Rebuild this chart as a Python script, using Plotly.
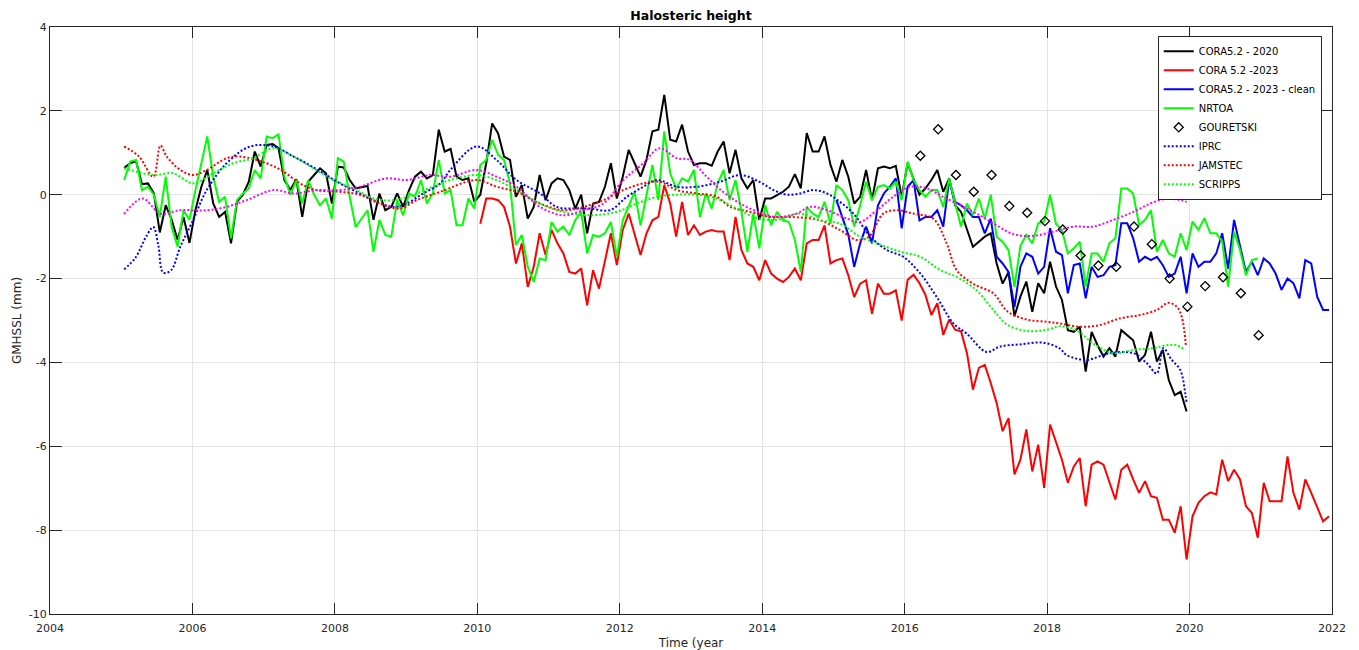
import plotly.graph_objects as go

# ---------------- data ----------------
start_cora2020 = 2005.0417
cora2020 = [
    0.64, 0.75, 0.80, 0.25, 0.27, 0.03, -0.90, -0.25, -0.60, -1.08,
    -0.53, -1.15, -0.37, 0.19, 0.59, -0.21, -0.53, -0.41, -1.16, -0.17,
    0.00, 0.31, 1.03, 0.67, 1.19, 1.21, 1.11, 0.35, 0.11, 0.37,
    -0.53, 0.31, 0.47, 0.63, 0.51, -0.21, 0.67, 0.65, 0.35, 0.15,
    0.18, 0.21, -0.60, 0.03, -0.37, -0.29, 0.03, -0.29, 0.11, 0.43,
    0.55, 0.39, 0.47, 1.55,
    1.03, 1.09, 0.43, 0.35, 0.39, -0.17, 0.00, 0.75, 1.70, 1.46,
    0.91, 0.83, -0.05, 0.23, -0.57, -0.29, 0.47, -0.13, 0.27, 0.39,
    0.35, 0.11, -0.33, 0.00, -0.92, -0.21, -0.17, 0.19, 0.75, -0.09,
    0.43, 1.07, 0.75, 0.43, 0.83, 1.51, 1.55, 2.38, 1.31, 1.27,
    1.67, 1.03, 0.71, 0.75, 0.75, 0.69, 1.03, 1.27, 0.51, 1.07,
    0.39, 0.15, 0.35, -0.60, -0.09, -0.09, -0.01, 0.07, 0.19, 0.49,
    0.15, 1.47, 1.03, 1.03, 1.39, 0.71,
    0.31, 0.83, 0.43, -0.21, -0.05, 0.59, -0.13, 0.63, 0.67, 0.63,
    0.69, -0.05, 0.75, 0.35, 0.00, 0.15, 0.35, 0.59, 0.07, 0.39,
    -0.25, -0.41, -0.84, -1.24, -1.12, -1.00, -0.92, -1.64, -2.12, -1.85,
    -2.90, -2.43, -2.07, -2.79, -2.11, -2.35, -1.60, -2.19, -2.51, -3.23,
    -3.27, -3.15, -4.22, -3.27, -3.59, -3.86, -3.66, -3.86, -3.23, -3.35,
    -3.47, -3.98, -3.82, -3.27, -3.98, -3.70, -4.42, -4.78, -4.70, -5.17,
]

start_cora2023 = 2010.0417
cora2023 = [
    -0.69, -0.09, -0.09, -0.13, -0.29, -0.76, -1.64, -1.16, -2.20, -1.72,
    -0.92, -1.44, -0.84, -1.16, -1.40, -1.84, -1.88, -1.76, -2.64, -1.80,
    -2.24, -1.56, -0.92, -1.68, -0.84, -0.45, -0.92, -1.44, -0.92, -0.61,
    -0.53, 0.23, -0.21, -1.00, -0.17, -0.96, -0.73, -0.96, -0.88, -0.84,
    -0.88, -0.88, -1.56, -0.53, -1.32, -1.64, -1.72, -2.04, -1.56, -1.88,
    -2.00, -2.08, -1.96, -1.76, -2.04, -1.16, -1.08, -1.08, -0.73, -1.64,
    -1.56, -1.52, -1.92, -2.44, -2.12, -2.04, -2.84, -2.12, -2.36, -2.36,
    -2.28, -3.00, -2.03, -1.91, -2.11, -2.39, -2.87, -2.59, -3.34, -2.98,
    -3.22, -3.26, -3.78, -4.65, -4.13, -4.06, -4.49, -4.97, -5.64, -5.33,
    -6.67, -6.32, -5.60, -6.60, -5.96, -6.99, -5.48, -5.92, -6.32, -6.87,
    -6.48, -6.28, -7.43, -6.44, -6.36, -6.44, -6.87, -7.27, -6.56, -6.44,
    -6.79, -7.11, -6.83, -7.19, -7.23, -7.75, -7.75, -8.06, -7.43, -8.70,
    -7.67, -7.35, -7.19, -7.10, -7.15, -6.32, -6.83, -6.56, -6.79, -7.43,
    -7.59, -8.18, -6.87, -7.31, -7.31, -7.31, -6.24, -7.11, -7.51, -6.79,
    -7.11, -7.47, -7.79, -7.67,
]

start_clean = 2015.0417
cora2023_clean = [
    -0.13, -0.55, -0.95, -1.72, -1.16, -0.76, -1.16, -0.25, 0.03, 0.19,
    0.39, -0.80, 0.19, 0.35, -0.61, -0.53, -0.53, -0.37, -0.76, 0.35,
    -0.17, -0.25, -0.37, -0.53, -0.53, -0.92, -0.57, -1.48, -1.64, -1.84,
    -2.68, -1.72, -1.40, -1.48, -1.88, -1.72, -0.80, -1.36, -1.44, -2.35,
    -1.68, -1.64, -2.47, -1.72, -1.96, -1.92, -1.72, -1.68, -0.68, -0.68,
    -1.04, -1.60, -1.48, -1.56, -1.48, -1.68, -1.96, -1.88, -1.48, -2.35,
    -1.40, -1.72, -1.60, -1.60, -1.40, -0.92, -1.76, -0.60, -1.24, -1.84,
    -1.60, -1.92, -1.52, -1.64, -1.88, -2.27, -2.00, -2.11, -2.47, -1.56,
    -1.64, -2.43, -2.75, -2.75,
]

start_nrtoa = 2005.0417
nrtoa = [
    0.35, 0.79, 0.83, 0.11, 0.19, 0.00, -0.53, 0.43, -0.77, -1.24,
    -0.37, -0.60, 0.11, 0.75, 1.39, 0.43, -0.17, -0.05, -1.04, -0.13,
    0.03, 0.15, 0.59, 0.39, 1.39, 1.35, 1.44, 0.43, 0.00, 0.35,
    -0.21, 0.35, 0.00, -0.25, -0.09, -0.57, 0.87, 0.79, -0.05, -0.77,
    -0.57, -0.37, -1.36, -0.60, -0.96, -1.00, -0.13, -0.49, 0.03, -0.05,
    0.35, -0.21, 0.03, 0.83,
    0.03, 0.11, -0.73, -0.73, -0.09, -0.33, 0.71, 0.83, 1.31, 0.95,
    0.83, 0.27, -1.20, -0.96, -1.72, -2.08, -1.52, -1.56, -0.65, -0.88,
    -0.76, -0.96, -0.61, -0.41, -1.40, -0.96, -1.00, -0.92, -0.65, -1.48,
    -0.61, -0.29, 0.07, -0.73, 0.03, 0.71, -0.13, 1.51, 0.51, 0.15,
    0.39, 0.31, 0.59, -0.53, 0.03, -0.33, 0.27, 0.59, -0.13, 0.35,
    -0.41, -1.36, -0.45, -1.28, -0.25, -0.73, -0.41, -0.61, -0.65, -1.08,
    -1.84, -0.29, -0.45, -0.53, -0.17, -0.69,
    0.23, 0.11, -0.13, -0.76, -0.25, 0.31, -0.13, 0.19, 0.23, 0.15,
    0.31, -0.13, 0.79, 0.35, 0.11, -0.05, 0.11, 0.11, -0.29, 0.39,
    -0.21, -0.76, -0.21, -0.49, -0.09, -0.57, 0.00, -1.00, -1.12, -1.32,
    -2.20, -1.22, -0.96, -1.16, -0.68, -0.64, 0.00, -0.70, -0.84, -1.40,
    -1.28, -1.12, -2.19, -1.40, -1.40, -1.60, -1.16, -1.04, 0.15, 0.15,
    0.03, -0.72, -0.60, -0.37, -1.36, -1.08, -1.40, -1.48, -0.92, -1.32,
    -0.64, -0.84, -0.56, -0.92, -0.92, -1.12, -2.19, -0.88, -1.32, -1.92,
    -1.56, -1.52,
]

gouretski_years = [2016.22, 2016.47, 2016.72, 2016.97, 2017.22, 2017.47, 2017.72,
                   2017.97, 2018.22, 2018.47, 2018.72, 2018.97, 2019.22, 2019.47,
                   2019.72, 2019.97, 2020.22, 2020.47, 2020.72, 2020.97]
gouretski = [0.93, 1.56, 0.47, 0.07, 0.47, -0.27, -0.43, -0.63, -0.83, -1.45,
             -1.69, -1.72, -0.76, -1.18, -2.00, -2.67, -2.18, -1.97, -2.35, -3.35]

iprc_years = [2005.04, 2005.2, 2005.35, 2005.45, 2005.52, 2005.59, 2005.7, 2005.83,
              2006.01, 2006.2, 2006.48, 2006.81, 2007.14, 2007.42, 2007.6, 2007.84,
              2008.07, 2008.35, 2008.54, 2008.82, 2009.01, 2009.24, 2009.48, 2009.62,
              2009.99, 2010.27, 2010.55, 2010.88, 2011.11, 2011.35, 2011.58, 2011.86,
              2012.1, 2012.33, 2012.52, 2012.8, 2013.08, 2013.41, 2013.69, 2013.97,
              2014.16, 2014.35, 2014.53, 2014.72, 2014.91, 2015.09, 2015.28, 2015.52,
              2015.75, 2015.98, 2016.22, 2016.45, 2016.69, 2016.87, 2017.15, 2017.34,
              2017.62, 2017.95, 2018.18, 2018.27, 2018.55, 2018.88, 2019.21, 2019.4,
              2019.54, 2019.63, 2019.75, 2019.87, 2019.94, 2019.96]
iprc = [-1.78, -1.5, -1.0, -0.77, -1.2, -1.86, -1.8, -1.24,
        -0.6, 0.11, 0.75, 1.15, 1.15, 0.91, 0.75, 0.51,
        0.27, 0.03, -0.13, -0.29, -0.21, 0.03, 0.27, 0.59,
        1.15, 0.83, 0.35, 0.03, -0.29, -0.33, -0.33, -0.37,
        -0.05, 0.19, 0.35, 0.19, 0.19, 0.31, 0.47, 0.30,
        0.11, 0.0, 0.03, 0.11, 0.03, -0.17, -0.45, -1.0,
        -1.32, -1.48, -1.88, -2.44, -3.08, -3.31, -3.75, -3.62,
        -3.57, -3.53, -3.67, -3.82, -3.94, -3.78, -3.78, -4.02,
        -4.26, -3.66, -3.94, -4.18, -4.74, -4.98]

jamstec_years = [2005.04, 2005.25, 2005.45, 2005.55, 2005.64, 2005.83, 2006.01, 2006.2,
                 2006.48, 2006.67, 2007.04, 2007.28, 2007.51, 2007.74, 2008.07, 2008.35,
                 2008.63, 2008.91, 2009.15, 2009.48, 2009.99, 2010.27, 2010.55, 2010.88,
                 2011.2, 2011.49, 2011.77, 2012.05, 2012.33, 2012.56, 2012.8, 2013.08,
                 2013.36, 2013.55, 2013.83, 2014.11, 2014.39, 2014.81, 2015.09, 2015.33,
                 2015.5, 2015.7, 2015.89, 2016.12, 2016.4, 2016.59, 2016.73, 2016.96,
                 2017.25, 2017.44, 2017.72, 2018.0, 2018.18, 2018.46, 2018.74, 2019.02,
                 2019.3, 2019.54, 2019.7, 2019.82, 2019.89, 2019.95]
jamstec = [1.15, 0.91, 0.43, 1.17, 0.91, 0.59, 0.47, 0.59,
           0.87, 0.91, 0.75, 0.55, 0.27, 0.11, 0.07, 0.0,
           -0.21, -0.33, -0.13, 0.07, 0.35, 0.19, 0.07, -0.21,
           -0.37, -0.29, -0.13, 0.11, 0.27, 0.31, 0.11, 0.03,
           -0.05, -0.29, -0.41, -0.53, -0.53, -0.61, -0.84, -1.08,
           -1.0, -0.45, -0.37, -0.45, -0.57, -1.16, -1.8, -2.12,
           -2.36, -2.78, -2.98, -3.03, -3.07, -3.15, -3.11, -2.95,
           -2.87, -2.75, -2.58, -2.67, -2.91, -3.62]

scripps_years = [2005.04, 2005.45, 2005.73, 2006.01, 2006.29, 2006.57, 2006.85, 2007.14,
                 2007.42, 2007.7, 2007.98, 2008.26, 2008.54, 2008.82, 2009.1, 2009.48,
                 2009.62, 2009.99, 2010.27, 2010.55, 2010.88, 2011.2, 2011.58, 2011.95,
                 2012.24, 2012.52, 2012.8, 2013.08, 2013.36, 2013.64, 2013.92, 2014.2,
                 2014.53, 2014.81, 2015.09, 2015.37, 2015.61, 2015.94, 2016.22, 2016.5,
                 2016.73, 2017.01, 2017.25, 2017.44, 2017.72, 2018.0, 2018.18, 2018.41,
                 2018.65, 2018.93, 2019.21, 2019.49, 2019.68, 2019.82, 2019.94]
scripps = [0.63, 0.47, 0.51, 0.27, 0.51, 0.75, 0.87, 1.11,
           0.91, 0.63, 0.35, 0.15, -0.09, -0.13, 0.0, 0.27,
           0.35, 0.47, 0.35, 0.11, -0.21, -0.41, -0.49, -0.41,
           -0.21, -0.05, 0.0, 0.0, -0.09, -0.33, -0.55, -0.6,
           -0.45, -0.61, -0.69, -1.0, -1.16, -1.36, -1.48, -1.8,
           -1.96, -2.28, -2.76, -3.1, -3.25, -3.22, -3.14, -3.23,
           -3.55, -3.78, -3.70, -3.66, -3.59, -3.59, -3.70]

magenta_years = [2005.04, 2005.3, 2005.55, 2005.83, 2006.2, 2006.48, 2006.76, 2007.14,
                 2007.42, 2007.74, 2008.07, 2008.35, 2008.72, 2009.01, 2009.34, 2009.62,
                 2009.99, 2010.27, 2010.55, 2010.88, 2011.2, 2011.49, 2011.77, 2012.05,
                 2012.33, 2012.56, 2012.8, 2012.98, 2013.22, 2013.45, 2013.69, 2013.97,
                 2014.2, 2014.48, 2014.67, 2014.91, 2015.19, 2015.37, 2015.61, 2015.84,
                 2016.08, 2016.31, 2016.54, 2016.78, 2017.01, 2017.25, 2017.53, 2017.81,
                 2018.09, 2018.37, 2018.65, 2018.93, 2019.21, 2019.45, 2019.63, 2019.82,
                 2019.96]
magenta = [-0.46, -0.09, -0.45, -0.37, -0.37, -0.29, -0.13, 0.11,
           0.03, 0.11, 0.11, 0.19, 0.39, 0.35, 0.47, 0.43,
           0.59, 0.43, 0.19, -0.29, -0.49, -0.37, -0.21, 0.35,
           0.75, 1.11, 0.87, 0.83, 0.43, 0.07, -0.21, -0.43,
           -0.53, -0.45, -0.29, -0.37, -0.57, -0.65, -0.37, -0.05,
           0.19, 0.15, -0.05, -0.25, -0.45, -0.69, -0.94, -0.98,
           -0.88, -0.76, -0.76, -0.60, -0.41, -0.21, -0.11, -0.11,
           -0.17]

y_ticks = [-10, -8, -6, -4, -2, 0, 2, 4]
y_tick_labels = ["-10", "-8", "-6", "-4", "-2", "0", "2", "4"]
x_ticks = [2004, 2006, 2008, 2010, 2012, 2014, 2016, 2018, 2020, 2022]


def monthly(start, values):
    return [start + i / 12.0 for i in range(len(values))]


FONT = "DejaVu Sans"
AXC = "#262626"
DOT = "2px,2px"

fig = go.Figure()
fig.add_trace(go.Scatter(x=monthly(start_cora2020, cora2020), y=cora2020, mode="lines",
                         name="CORA5.2 - 2020", line=dict(color="#000000", width=2)))
fig.add_trace(go.Scatter(x=monthly(start_cora2023, cora2023), y=cora2023, mode="lines",
                         name="CORA 5.2 -2023", line=dict(color="#ff0000", width=2)))
fig.add_trace(go.Scatter(x=monthly(start_clean, cora2023_clean), y=cora2023_clean, mode="lines",
                         name="CORA5.2 - 2023 - clean", line=dict(color="#0000ff", width=2)))
fig.add_trace(go.Scatter(x=monthly(start_nrtoa, nrtoa), y=nrtoa, mode="lines",
                         name="NRTOA", line=dict(color="#00ff00", width=2)))
fig.add_trace(go.Scatter(x=gouretski_years, y=gouretski, mode="markers", name="GOURETSKI",
                         marker=dict(symbol="diamond-open", size=7, color="#000000",
                                     line=dict(width=1.3, color="#000000"))))
fig.add_trace(go.Scatter(x=iprc_years, y=iprc, mode="lines", name="IPRC",
                         line=dict(color="#0000ff", width=2, dash=DOT, shape="spline")))
fig.add_trace(go.Scatter(x=jamstec_years, y=jamstec, mode="lines", name="JAMSTEC",
                         line=dict(color="#ff0000", width=2, dash=DOT, shape="spline")))
fig.add_trace(go.Scatter(x=scripps_years, y=scripps, mode="lines", name="SCRIPPS",
                         line=dict(color="#00ff00", width=2, dash=DOT, shape="spline")))
fig.add_trace(go.Scatter(x=magenta_years, y=magenta, mode="lines", showlegend=False,
                         line=dict(color="#ff00ff", width=2, dash=DOT, shape="spline")))

axis_common = dict(
    showline=True, linecolor=AXC, linewidth=1, mirror="ticks",
    ticks="inside", tickcolor=AXC, tickwidth=1,
    showgrid=True, gridcolor="#e3e3e3", gridwidth=1, zeroline=False,
    tickfont=dict(family=FONT, size=11, color=AXC),
)

fig.update_layout(
    width=1359, height=650,
    margin=dict(l=50, r=27, t=27, b=36, autoexpand=False),
    paper_bgcolor="white", plot_bgcolor="white",
    font=dict(family=FONT, color=AXC),
    title=dict(text="<b>Halosteric height</b>", x=0.5, xref="paper", xanchor="center",
               y=1 - 16 / 650, yref="container", yanchor="middle",
               font=dict(family=FONT, size=12.5, color="#000000")),
    xaxis=dict(range=[2004, 2022], tickvals=x_ticks, ticklen=11, ticklabelstandoff=4,
               title=dict(text="Time (year", font=dict(family=FONT, size=12, color=AXC), standoff=4),
               **axis_common),
    yaxis=dict(range=[-10, 4], tickvals=y_ticks, ticktext=y_tick_labels, ticklen=12,
               title=dict(text="GMHSSL (mm)", font=dict(family=FONT, size=12, color=AXC), standoff=4),
               **axis_common),
    legend=dict(x=0.992, y=0.985, xanchor="right", yanchor="top",
                bgcolor="white", bordercolor=AXC, borderwidth=1,
                font=dict(family=FONT, size=10, color="#000000"),
                itemwidth=30, tracegroupgap=0),
    showlegend=True,
)

fig.write_html("out.html")
